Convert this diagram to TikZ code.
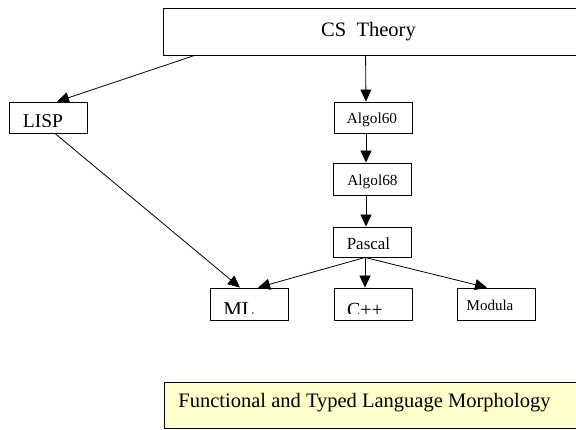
\documentclass[tikz,border=0pt]{standalone}
\usepackage{fontspec}
\setmainfont{Liberation Serif}
\usetikzlibrary{arrows.meta}

\definecolor{notefill}{HTML}{FFFFCC}

% boxes carry their word in a path picture, so it can be cut off low in the box
% lettering = {size}{x offset}{baseline above bottom}{cut above bottom}{word}
\tikzset{
	box/.style={draw, line width=0.9pt, inner sep=0pt, minimum width=78pt, minimum height=31pt},
	lettering/.style n args={5}{path picture={
			\clip ([yshift=#4]path picture bounding box.south west) rectangle ([yshift=2pt]path picture bounding box.north east);
			\node[inner sep=0pt, anchor=base, font=\fontsize{#1}{#1}\selectfont] at ([xshift=#2, yshift=#3]path picture bounding box.south) {#5};}},
	link/.style={line width=0.8pt, -{Triangle[length=12pt,width=11pt]}}
}

\begin{document}
\begin{tikzpicture}[x=1pt, y=-1pt]
			
			\useasboundingbox (0,0) rectangle (576,429);
			\clip (0,0) rectangle (576,429);
			
			\node[box, minimum width=437pt, minimum height=47pt, lettering={20.5}{-13pt}{19pt}{0pt}{CS\ \ Theory}] (cs) at (381.5,31.5) {};
			
			\node[box, lettering={19.5}{-5pt}{5.8pt}{7pt}{LISP}] (lisp) at (48,117.5) {};
			\node[box, lettering={15.3}{-1pt}{9.7pt}{0pt}{Algol60}] (a60) at (373,117.5) {};
			\node[box, minimum height=32pt, lettering={15.3}{0pt}{10pt}{0pt}{Algol68}] (a68) at (372.5,179) {};
			\node[box, minimum height=30pt, lettering={17}{-4pt}{8pt}{0pt}{Pascal}] (pascal) at (372.5,242) {};
			
			\node[box, minimum height=32pt, lettering={21}{-10pt}{4pt}{6.5pt}{ML}] (ml) at (249,304) {};
			\node[box, minimum height=32pt, lettering={20}{-8pt}{4pt}{6.5pt}{C++}] (cpp) at (373,304) {};
			\node[box, minimum height=32pt, lettering={15}{-6.5pt}{10pt}{0pt}{Modula}] (modula) at (496.5,304) {};
			
			\node[box, fill=notefill, minimum width=426pt, minimum height=46pt, lettering={20.5}{-12.5pt}{21pt}{0pt}{Functional and Typed Language Morphology}] (note) at (377,405) {};
			
			\draw[link] ([xshift=32pt]cs.south west) -- ([xshift=9pt]lisp.north);
			\draw[link] ([xshift=203pt]cs.south west) -- ([xshift=-7pt]a60.north);
			\draw[link] ([xshift=-7pt]a60.south) -- ([xshift=-6.5pt]a68.north);
			\draw[link] ([xshift=-6.5pt]a68.south) -- ([xshift=-6.5pt]pascal.north);
			
			\draw[link] ([xshift=7pt]lisp.south) -- ([xshift=-9pt]ml.north);
			\draw[link] ([xshift=-7.5pt]pascal.south) -- ([xshift=9pt]ml.north);
			\draw[link] ([xshift=-7.5pt]pascal.south) -- ([xshift=-8pt]cpp.north);
			\draw[link] ([xshift=-7.5pt]pascal.south) -- ([xshift=-9.5pt]modula.north);
			
		\end{tikzpicture}
\end{document}
